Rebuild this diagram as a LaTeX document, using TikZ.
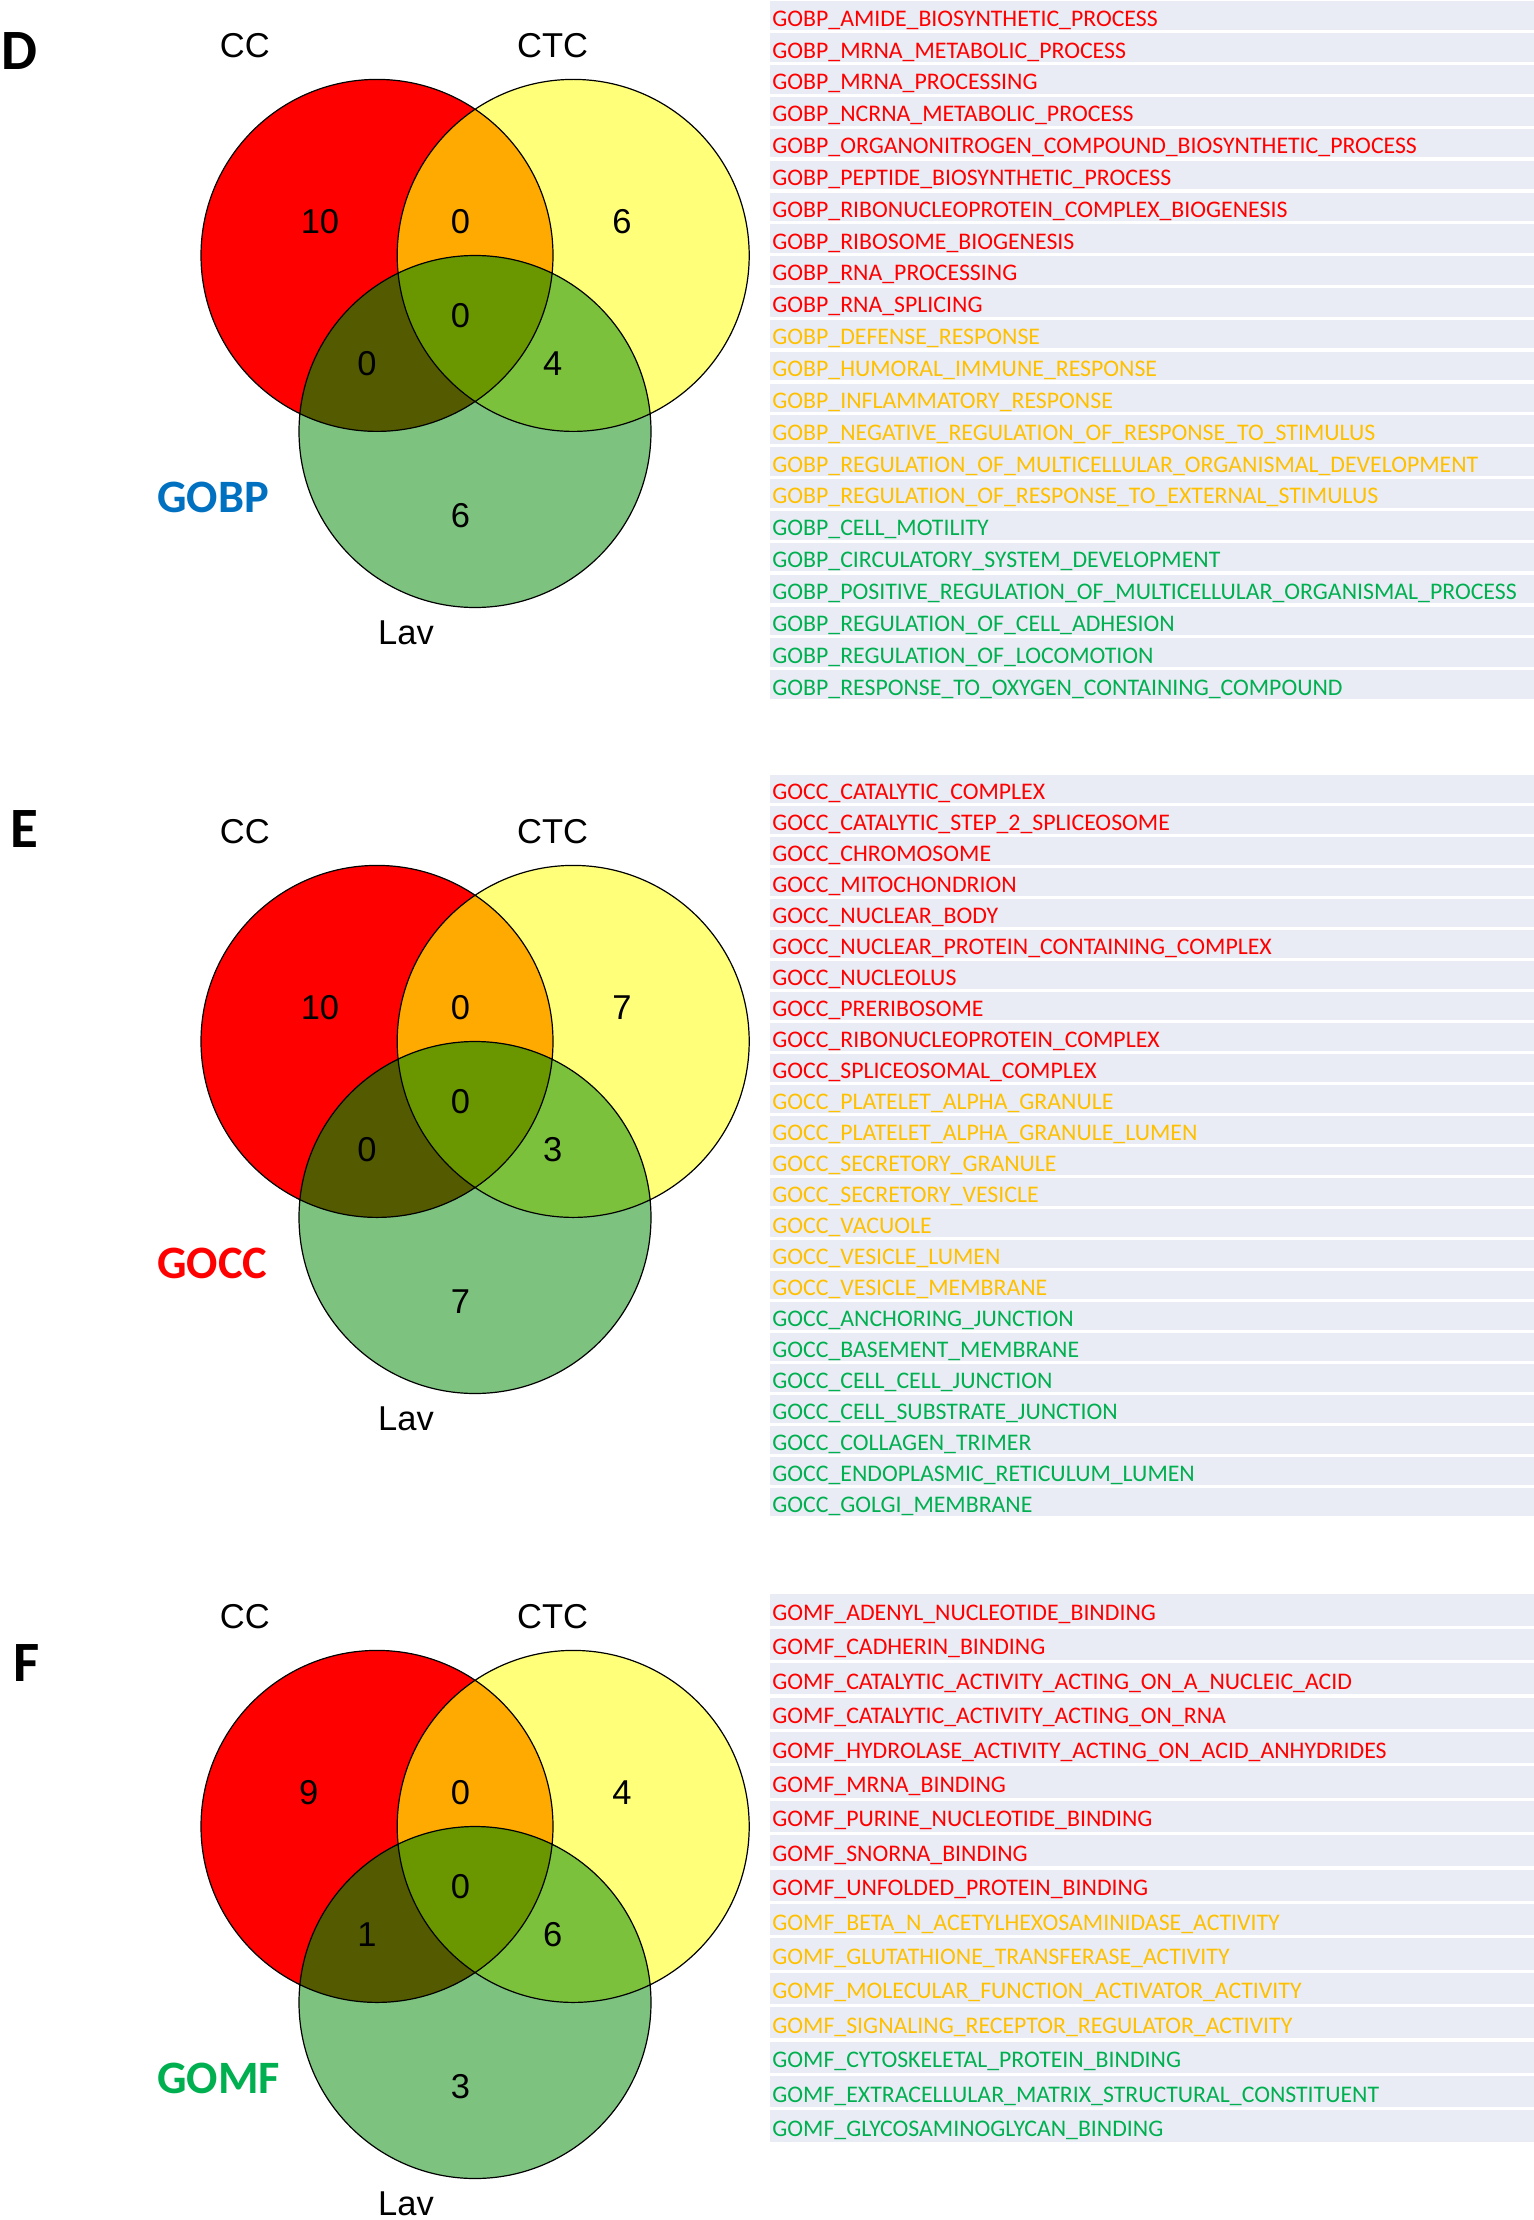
\documentclass[tikz,border=0pt]{standalone}
\usepackage{fontspec}
\usepackage{tikz}
\setmainfont{Carlito}
\newfontfamily\vennfont{Liberation Sans}

% region colours of the Venn diagrams
\definecolor{ccred}{HTML}{FF0000}
\definecolor{ctcyellow}{HTML}{FFFF7A}
\definecolor{lavgreen}{HTML}{7DC37F}
\definecolor{ccctc}{HTML}{FFAA00}
\definecolor{cclav}{HTML}{535A00}
\definecolor{ctclav}{HTML}{7CC13C}
\definecolor{allthree}{HTML}{6A9600}
% colours of the term lists
\definecolor{bandblue}{HTML}{E9ECF5}
\definecolor{termred}{HTML}{FF0000}
\definecolor{termorange}{HTML}{FFC000}
\definecolor{termgreen}{HTML}{00B050}
\definecolor{gobpblue}{HTML}{0070C0}

\tikzset{
  vennline/.style={draw=black, line width=0.6pt},
  setname/.style={font=\vennfont\fontsize{17.25}{20}\selectfont},
  regionnum/.style={font=\vennfont\fontsize{17.25}{20}\selectfont},
  panelletter/.style={anchor=west, inner sep=0pt, font=\bfseries\fontsize{28.5}{32}\selectfont},
  gotype/.style={anchor=west, inner sep=0pt, font=\bfseries\fontsize{23.2}{27}\selectfont},
  goterm/.style={anchor=base west, inner sep=0pt, font=\fontsize{11.9}{14}\selectfont},
  band/.style={fill=bandblue}
}

% three circles, their overlaps and the set names
\newcommand{\venncircles}[1]{%
  \coordinate (#1-cc) at (377,255.4);
  \coordinate (#1-ctc) at (573.2,255.4);
  \coordinate (#1-lav) at (475,431.5);
  \fill[ccred] (#1-cc) circle (176);
  \fill[ctcyellow] (#1-ctc) circle (176);
  \begin{scope}
    \clip (#1-cc) circle (176);
    \fill[ccctc] (#1-ctc) circle (176);
  \end{scope}
  \fill[lavgreen] (#1-lav) circle (176);
  \begin{scope}
    \clip (#1-lav) circle (176);
    \fill[cclav] (#1-cc) circle (176);
    \fill[ctclav] (#1-ctc) circle (176);
    \clip (#1-cc) circle (176);
    \fill[allthree] (#1-ctc) circle (176);
  \end{scope}
  \draw[vennline] (#1-cc) circle (176) (#1-ctc) circle (176) (#1-lav) circle (176);
  \node[setname] (#1-cclab) at (244.8,45.5) {CC};
  \node[setname] (#1-ctclab) at (552.6,45.5) {CTC};
  \node[setname] (#1-lavlab) at (406,633) {Lav};
}

% rows of the term list: #1 panel, #2 prefix, #3 first centre, #4 pitch,
% #5 first row, #6 colour, #7 terms
\newcommand{\termrows}[7]{%
  \foreach \t [count=\i from #5] in {#7} {
    \pgfmathsetmacro{\yc}{#3+#4*\i}
    \pgfmathsetmacro{\hb}{#4-3.3}
    \fill[band] (770,\yc-\hb/2-3) rectangle (1534,\yc+\hb/2-3);
    \node[goterm, text=#6] (#1term\i) at (772,\yc+7.5) {#2\_\t};
  }
}

\begin{document}
\begin{tikzpicture}[x=0.5pt, y=-0.5pt]
  % page
  \fill[white] (0,0) rectangle (1534,2220);
  \useasboundingbox (0,0) rectangle (1534,2220);

  % Panel D: biological process
  \begin{scope}
    \venncircles{D}
    \node[panelletter] (D-letter) at (1.5,51) {D};
    \node[gotype, text=gobpblue] (D-type) at (157,497.7) {GOBP};
    \node[regionnum] (D-n1) at (320,222) {10};
    \node[regionnum] (D-n2) at (460.5,222) {0};
    \node[regionnum] (D-n3) at (621.9,222) {6};
    \node[regionnum] (D-n4) at (460.5,315.7) {0};
    \node[regionnum] (D-n5) at (367,363.4) {0};
    \node[regionnum] (D-n6) at (552.6,363.4) {4};
    \node[regionnum] (D-n7) at (460.5,516) {6};
  \end{scope}

  \termrows{D}{GOBP}{18.7}{31.85}{0}{termred}{AMIDE\_BIOSYNTHETIC\_PROCESS, MRNA\_METABOLIC\_PROCESS, MRNA\_PROCESSING, NCRNA\_METABOLIC\_PROCESS, ORGANONITROGEN\_COMPOUND\_BIOSYNTHETIC\_PROCESS, PEPTIDE\_BIOSYNTHETIC\_PROCESS, RIBONUCLEOPROTEIN\_COMPLEX\_BIOGENESIS, RIBOSOME\_BIOGENESIS, RNA\_PROCESSING, RNA\_SPLICING}
  \termrows{D}{GOBP}{18.7}{31.85}{10}{termorange}{DEFENSE\_RESPONSE, HUMORAL\_IMMUNE\_RESPONSE, INFLAMMATORY\_RESPONSE, NEGATIVE\_REGULATION\_OF\_RESPONSE\_TO\_STIMULUS, REGULATION\_OF\_MULTICELLULAR\_ORGANISMAL\_DEVELOPMENT, REGULATION\_OF\_RESPONSE\_TO\_EXTERNAL\_STIMULUS}
  \termrows{D}{GOBP}{18.7}{31.85}{16}{termgreen}{CELL\_MOTILITY, CIRCULATORY\_SYSTEM\_DEVELOPMENT, POSITIVE\_REGULATION\_OF\_MULTICELLULAR\_ORGANISMAL\_PROCESS, REGULATION\_OF\_CELL\_ADHESION, REGULATION\_OF\_LOCOMOTION, RESPONSE\_TO\_OXYGEN\_CONTAINING\_COMPOUND}

  % Panel E: cellular component
  \begin{scope}[shift={(0,786)}]
    \venncircles{E}
    \node[panelletter] (E-letter) at (10.5,42.8) {E};
    \node[gotype, text=termred] (E-type) at (157,477.3) {GOCC};
    \node[regionnum] (E-n1) at (320,222) {10};
    \node[regionnum] (E-n2) at (460.5,222) {0};
    \node[regionnum] (E-n3) at (621.9,222) {7};
    \node[regionnum] (E-n4) at (460.5,315.7) {0};
    \node[regionnum] (E-n5) at (367,363.4) {0};
    \node[regionnum] (E-n6) at (552.6,363.4) {3};
    \node[regionnum] (E-n7) at (460.5,516) {7};
  \end{scope}

  \termrows{E}{GOCC}{791.7}{31.0}{0}{termred}{CATALYTIC\_COMPLEX, CATALYTIC\_STEP\_2\_SPLICEOSOME, CHROMOSOME, MITOCHONDRION, NUCLEAR\_BODY, NUCLEAR\_PROTEIN\_CONTAINING\_COMPLEX, NUCLEOLUS, PRERIBOSOME, RIBONUCLEOPROTEIN\_COMPLEX, SPLICEOSOMAL\_COMPLEX}
  \termrows{E}{GOCC}{791.7}{31.0}{10}{termorange}{PLATELET\_ALPHA\_GRANULE, PLATELET\_ALPHA\_GRANULE\_LUMEN, SECRETORY\_GRANULE, SECRETORY\_VESICLE, VACUOLE, VESICLE\_LUMEN, VESICLE\_MEMBRANE}
  \termrows{E}{GOCC}{791.7}{31.0}{17}{termgreen}{ANCHORING\_JUNCTION, BASEMENT\_MEMBRANE, CELL\_CELL\_JUNCTION, CELL\_SUBSTRATE\_JUNCTION, COLLAGEN\_TRIMER, ENDOPLASMIC\_RETICULUM\_LUMEN, GOLGI\_MEMBRANE}

  % Panel F: molecular function
  \begin{scope}[shift={(0,1571)}]
    \venncircles{F}
    \node[panelletter] (F-letter) at (13,92) {F};
    \node[gotype, text=termgreen] (F-type) at (157,507.7) {GOMF};
    \node[regionnum] (F-n1) at (308.7,222) {9};
    \node[regionnum] (F-n2) at (460.5,222) {0};
    \node[regionnum] (F-n3) at (621.9,222) {4};
    \node[regionnum] (F-n4) at (460.5,315.7) {0};
    \node[regionnum] (F-n5) at (367,363.4) {1};
    \node[regionnum] (F-n6) at (552.6,363.4) {6};
    \node[regionnum] (F-n7) at (460.5,516) {3};
  \end{scope}

  \termrows{F}{GOMF}{1613}{34.4}{0}{termred}{ADENYL\_NUCLEOTIDE\_BINDING, CADHERIN\_BINDING, CATALYTIC\_ACTIVITY\_ACTING\_ON\_A\_NUCLEIC\_ACID, CATALYTIC\_ACTIVITY\_ACTING\_ON\_RNA, HYDROLASE\_ACTIVITY\_ACTING\_ON\_ACID\_ANHYDRIDES, MRNA\_BINDING, PURINE\_NUCLEOTIDE\_BINDING, SNORNA\_BINDING, UNFOLDED\_PROTEIN\_BINDING}
  \termrows{F}{GOMF}{1613}{34.4}{9}{termorange}{BETA\_N\_ACETYLHEXOSAMINIDASE\_ACTIVITY, GLUTATHIONE\_TRANSFERASE\_ACTIVITY, MOLECULAR\_FUNCTION\_ACTIVATOR\_ACTIVITY, SIGNALING\_RECEPTOR\_REGULATOR\_ACTIVITY}
  \termrows{F}{GOMF}{1613}{34.4}{13}{termgreen}{CYTOSKELETAL\_PROTEIN\_BINDING, EXTRACELLULAR\_MATRIX\_STRUCTURAL\_CONSTITUENT, GLYCOSAMINOGLYCAN\_BINDING}
\end{tikzpicture}
\end{document}
